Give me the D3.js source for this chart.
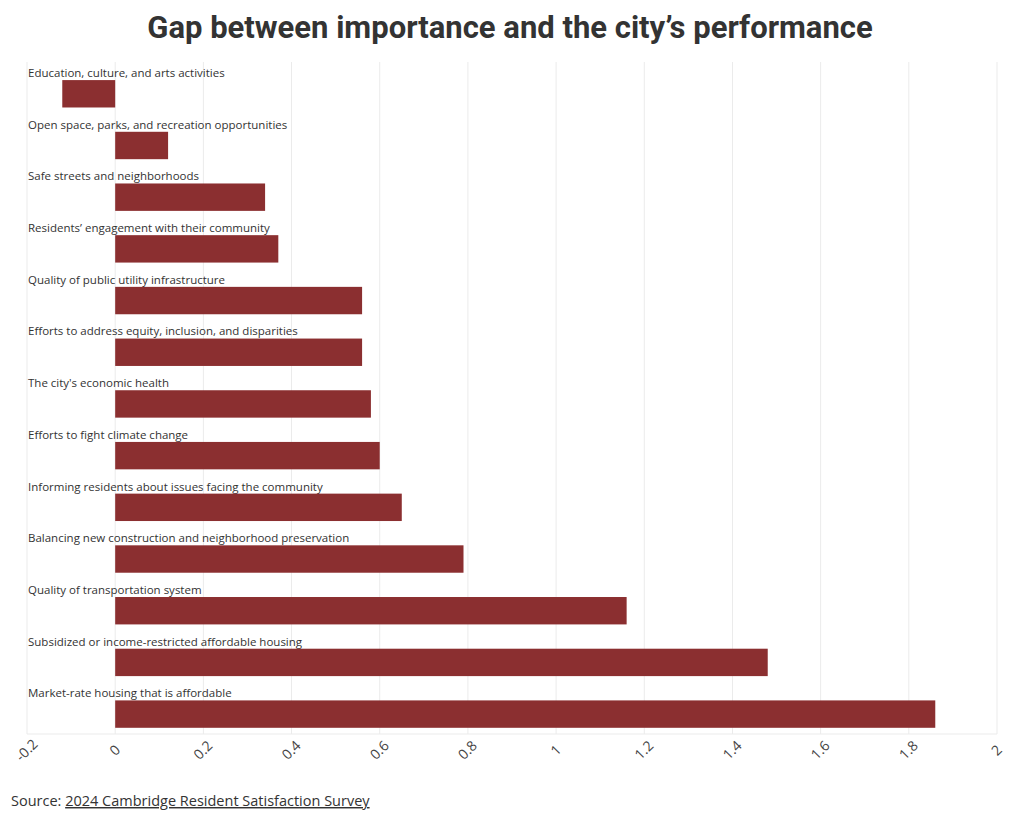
<!DOCTYPE html>
<html>
<head>
<meta charset="utf-8">
<script src="https://cdn.jsdelivr.net/npm/d3@7"></script>
<style>
  body { margin: 0; background: #fff; font-family: "Source Sans 3", "Open Sans", "Noto Sans", sans-serif; }
  svg { display: block; }
</style>
</head>
<body>
<svg id="chart" width="1020" height="821"></svg>
<script>
const categories = [
  "Education, culture, and arts activities",
  "Open space, parks, and recreation opportunities",
  "Safe streets and neighborhoods",
  "Residents’ engagement with their community",
  "Quality of public utility infrastructure",
  "Efforts to address equity, inclusion, and disparities",
  "The city's economic health",
  "Efforts to fight climate change",
  "Informing residents about issues facing the community",
  "Balancing new construction and neighborhood preservation",
  "Quality of transportation system",
  "Subsidized or income-restricted affordable housing",
  "Market-rate housing that is affordable"
];
const gapValues = [-0.12, 0.12, 0.34, 0.37, 0.56, 0.56, 0.58, 0.60, 0.65, 0.79, 1.16, 1.48, 1.86];
const tickValues = [-0.2, 0, 0.2, 0.4, 0.6, 0.8, 1, 1.2, 1.4, 1.6, 1.8, 2];
const tickLabels = ["-0.2", "0", "0.2", "0.4", "0.6", "0.8", "1", "1.2", "1.4", "1.6", "1.8", "2"];
const titleText = "Gap between importance and the city’s performance";
const sourceLabel = "Source: ";
const sourceLink = "2024 Cambridge Resident Satisfaction Survey";

const svg = d3.select("#chart");
const plotLeft = 27, plotRight = 997, plotTop = 62, plotBottom = 734;

const x = d3.scaleLinear().domain([-0.2, 2]).range([plotLeft, plotRight]);
const y = d3.scaleBand().domain(categories).range([plotTop, plotBottom]).paddingInner(0).paddingOuter(0);
const bw = y.bandwidth();

svg.append("text")
  .attr("x", 510).attr("y", 38)
  .attr("text-anchor", "middle")
  .attr("font-family", "Roboto, 'Open Sans', sans-serif")
  .attr("font-weight", 700)
  .attr("font-size", 31)
  .attr("fill", "#333")
  .text(titleText);

// grid
svg.append("g").selectAll("line").data(tickValues).join("line")
  .attr("x1", d => x(d)).attr("x2", d => x(d))
  .attr("y1", plotTop).attr("y2", plotBottom)
  .attr("stroke", "#ebebeb").attr("stroke-width", 1);
svg.append("line").attr("x1", plotLeft).attr("x2", plotRight).attr("y1", plotBottom).attr("y2", plotBottom)
  .attr("stroke", "#ebebeb");

// labels
svg.append("g").selectAll("text").data(categories).join("text")
  .attr("x", plotLeft + 1)
  .attr("y", d => y(d) + 15)
  .attr("font-size", 11.5)
  .attr("fill", "#333")
  .attr("font-family", "'Open Sans', sans-serif")
  .text(d => d);

// bars
svg.append("g").selectAll("rect").data(gapValues).join("rect")
  .attr("x", d => x(Math.min(0, d)))
  .attr("width", d => Math.abs(x(d) - x(0)))
  .attr("y", (d, i) => y(categories[i]) + bw * 0.35)
  .attr("height", bw * 0.53)
  .attr("fill", "#8b2f30");

// axis
const axis = d3.axisBottom(x).tickValues(tickValues).tickSize(0)
  .tickFormat((d, i) => tickLabels[i]);
const ag = svg.append("g").attr("transform", `translate(0,${plotBottom})`).call(axis);
ag.select(".domain").remove();
ag.selectAll("text")
  .attr("font-size", 14)
  .attr("font-family", "'Open Sans', sans-serif")
  .attr("fill", "#444")
  .attr("text-anchor", "middle")
  .attr("dy", null)
  .attr("transform", "translate(0,17) rotate(-45)")
  .attr("y", 0).attr("dominant-baseline", "middle");

// source
const src = svg.append("text").attr("x", 11).attr("y", 806)
  .attr("font-size", 14.5).attr("fill", "#333")
  .attr("font-family", "'Open Sans', sans-serif");
src.append("tspan").text(sourceLabel);
src.append("tspan").attr("text-decoration", "underline").text(sourceLink);
</script>
</body>
</html>
